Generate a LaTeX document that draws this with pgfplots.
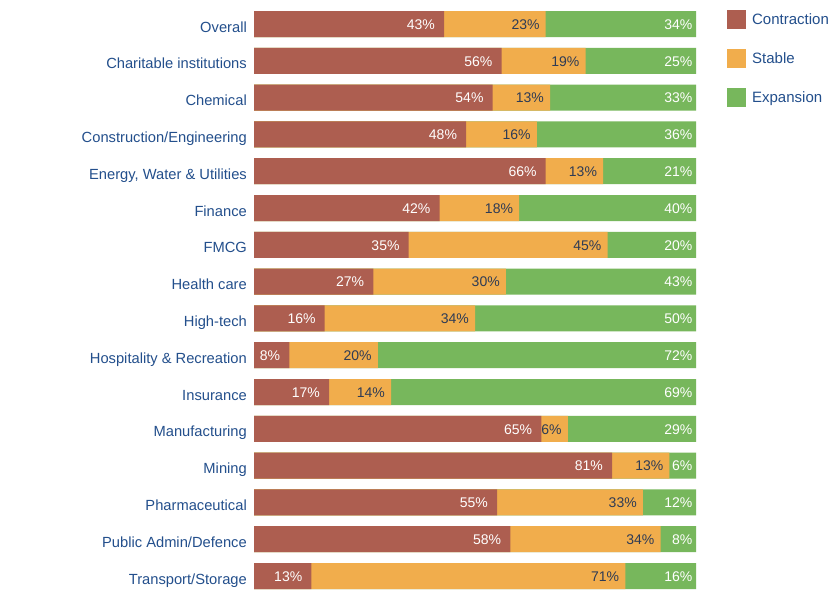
\documentclass[border=0pt]{standalone}
\usepackage{pgfplots}
\pgfplotsset{compat=1.18}
\usepackage{pgfplotstable}
\usepackage{fontspec}
\setmainfont{Liberation Sans}
\definecolor{contr}{HTML}{AD5E50}
\definecolor{stab}{HTML}{F1AD4C}
\definecolor{expa}{HTML}{77B75C}
\definecolor{lblue}{HTML}{234F8C}
\definecolor{dtext}{HTML}{2E3B55}
% c = contraction, s = stable, e = expansion (percent); cs = end of stable segment, t = total
\pgfplotstableread{
i c s e cs t
0 43 23 34 66 100
1 56 19 25 75 100
2 54 13 33 67 100
3 48 16 36 64 100
4 66 13 21 79 100
5 42 18 40 60 100
6 35 45 20 80 100
7 27 30 43 57 100
8 16 34 50 50 100
9 8 20 72 28 100
10 17 14 69 31 100
11 65 6 29 71 100
12 81 13 6 94 100
13 55 33 12 88 100
14 58 34 8 92 100
15 13 71 16 84 100
}\data
\begin{document}
\begin{tikzpicture}
\path[use as bounding box, fill=white] (0,0) rectangle (830pt,600pt);
\begin{axis}[
  at={(254pt,5.6pt)}, anchor=south west,
  scale only axis, width=442pt, height=588.8pt,
  xbar, bar width=26pt, bar shift=0pt,
  xmin=0, xmax=100, ymin=-0.5, ymax=15.5,
  y dir=reverse,
  hide x axis,
  axis y line*=left,
  y axis line style={draw=none},
  ytick={0,...,15},
  yticklabels={Overall,Charitable institutions,Chemical,Construction/Engineering,{Energy, Water \& Utilities},Finance,FMCG,Health care,High-tech,Hospitality \& Recreation,Insurance,Manufacturing,Mining,Pharmaceutical,Public Admin/Defence,Transport/Storage},
  ytick style={draw=none},
  major tick length=0pt,
  yticklabel style={font=\fontsize{14.7}{17}\selectfont, text=lblue, anchor=east, inner sep=0pt, xshift=-7pt, yshift=-2.8pt, text height=10.5pt, text depth=0pt},
  nodes near coords={\pgfmathprintnumber[assume math mode=true]{\pgfplotspointmeta}\%},
  nodes near coords align=horizontal,
  every node near coord/.append style={anchor=east, font=\fontsize{14}{16}\selectfont, inner sep=0pt, text height=10pt, text depth=0pt, yshift=-0.3pt},
  point meta=explicit,
  legend image code/.code={\fill[#1] (0pt,-9.5pt) rectangle (19pt,9.5pt);},
  legend style={at={(1.070,0.993)}, anchor=north west, draw=none, fill=none, inner sep=0pt,
    font=\fontsize{15}{17}\selectfont, text=lblue, row sep=20pt,
    nodes={inner sep=0pt, text depth=0pt}},
  legend cell align=left,
  /tikz/every odd column/.append style={column sep=6pt},
]
\addlegendimage{fill=contr, draw=none}
\addlegendimage{fill=stab, draw=none}
\addlegendimage{fill=expa, draw=none}
\addplot[forget plot, fill=expa, draw=none, every node near coord/.append style={text=white, xshift=-3.5pt}] table[x=t, y=i, meta=e]{\data};
\addplot[forget plot, fill=stab, draw=none, every node near coord/.append style={text=dtext, xshift=-6pt}] table[x=cs, y=i, meta=s]{\data};
\addplot[forget plot, fill=contr, draw=none, every node near coord/.append style={text=white, xshift=-9pt}] table[x=c, y=i, meta=c]{\data};
\legend{Contraction, Stable, Expansion}
\end{axis}
\end{tikzpicture}
\end{document}
